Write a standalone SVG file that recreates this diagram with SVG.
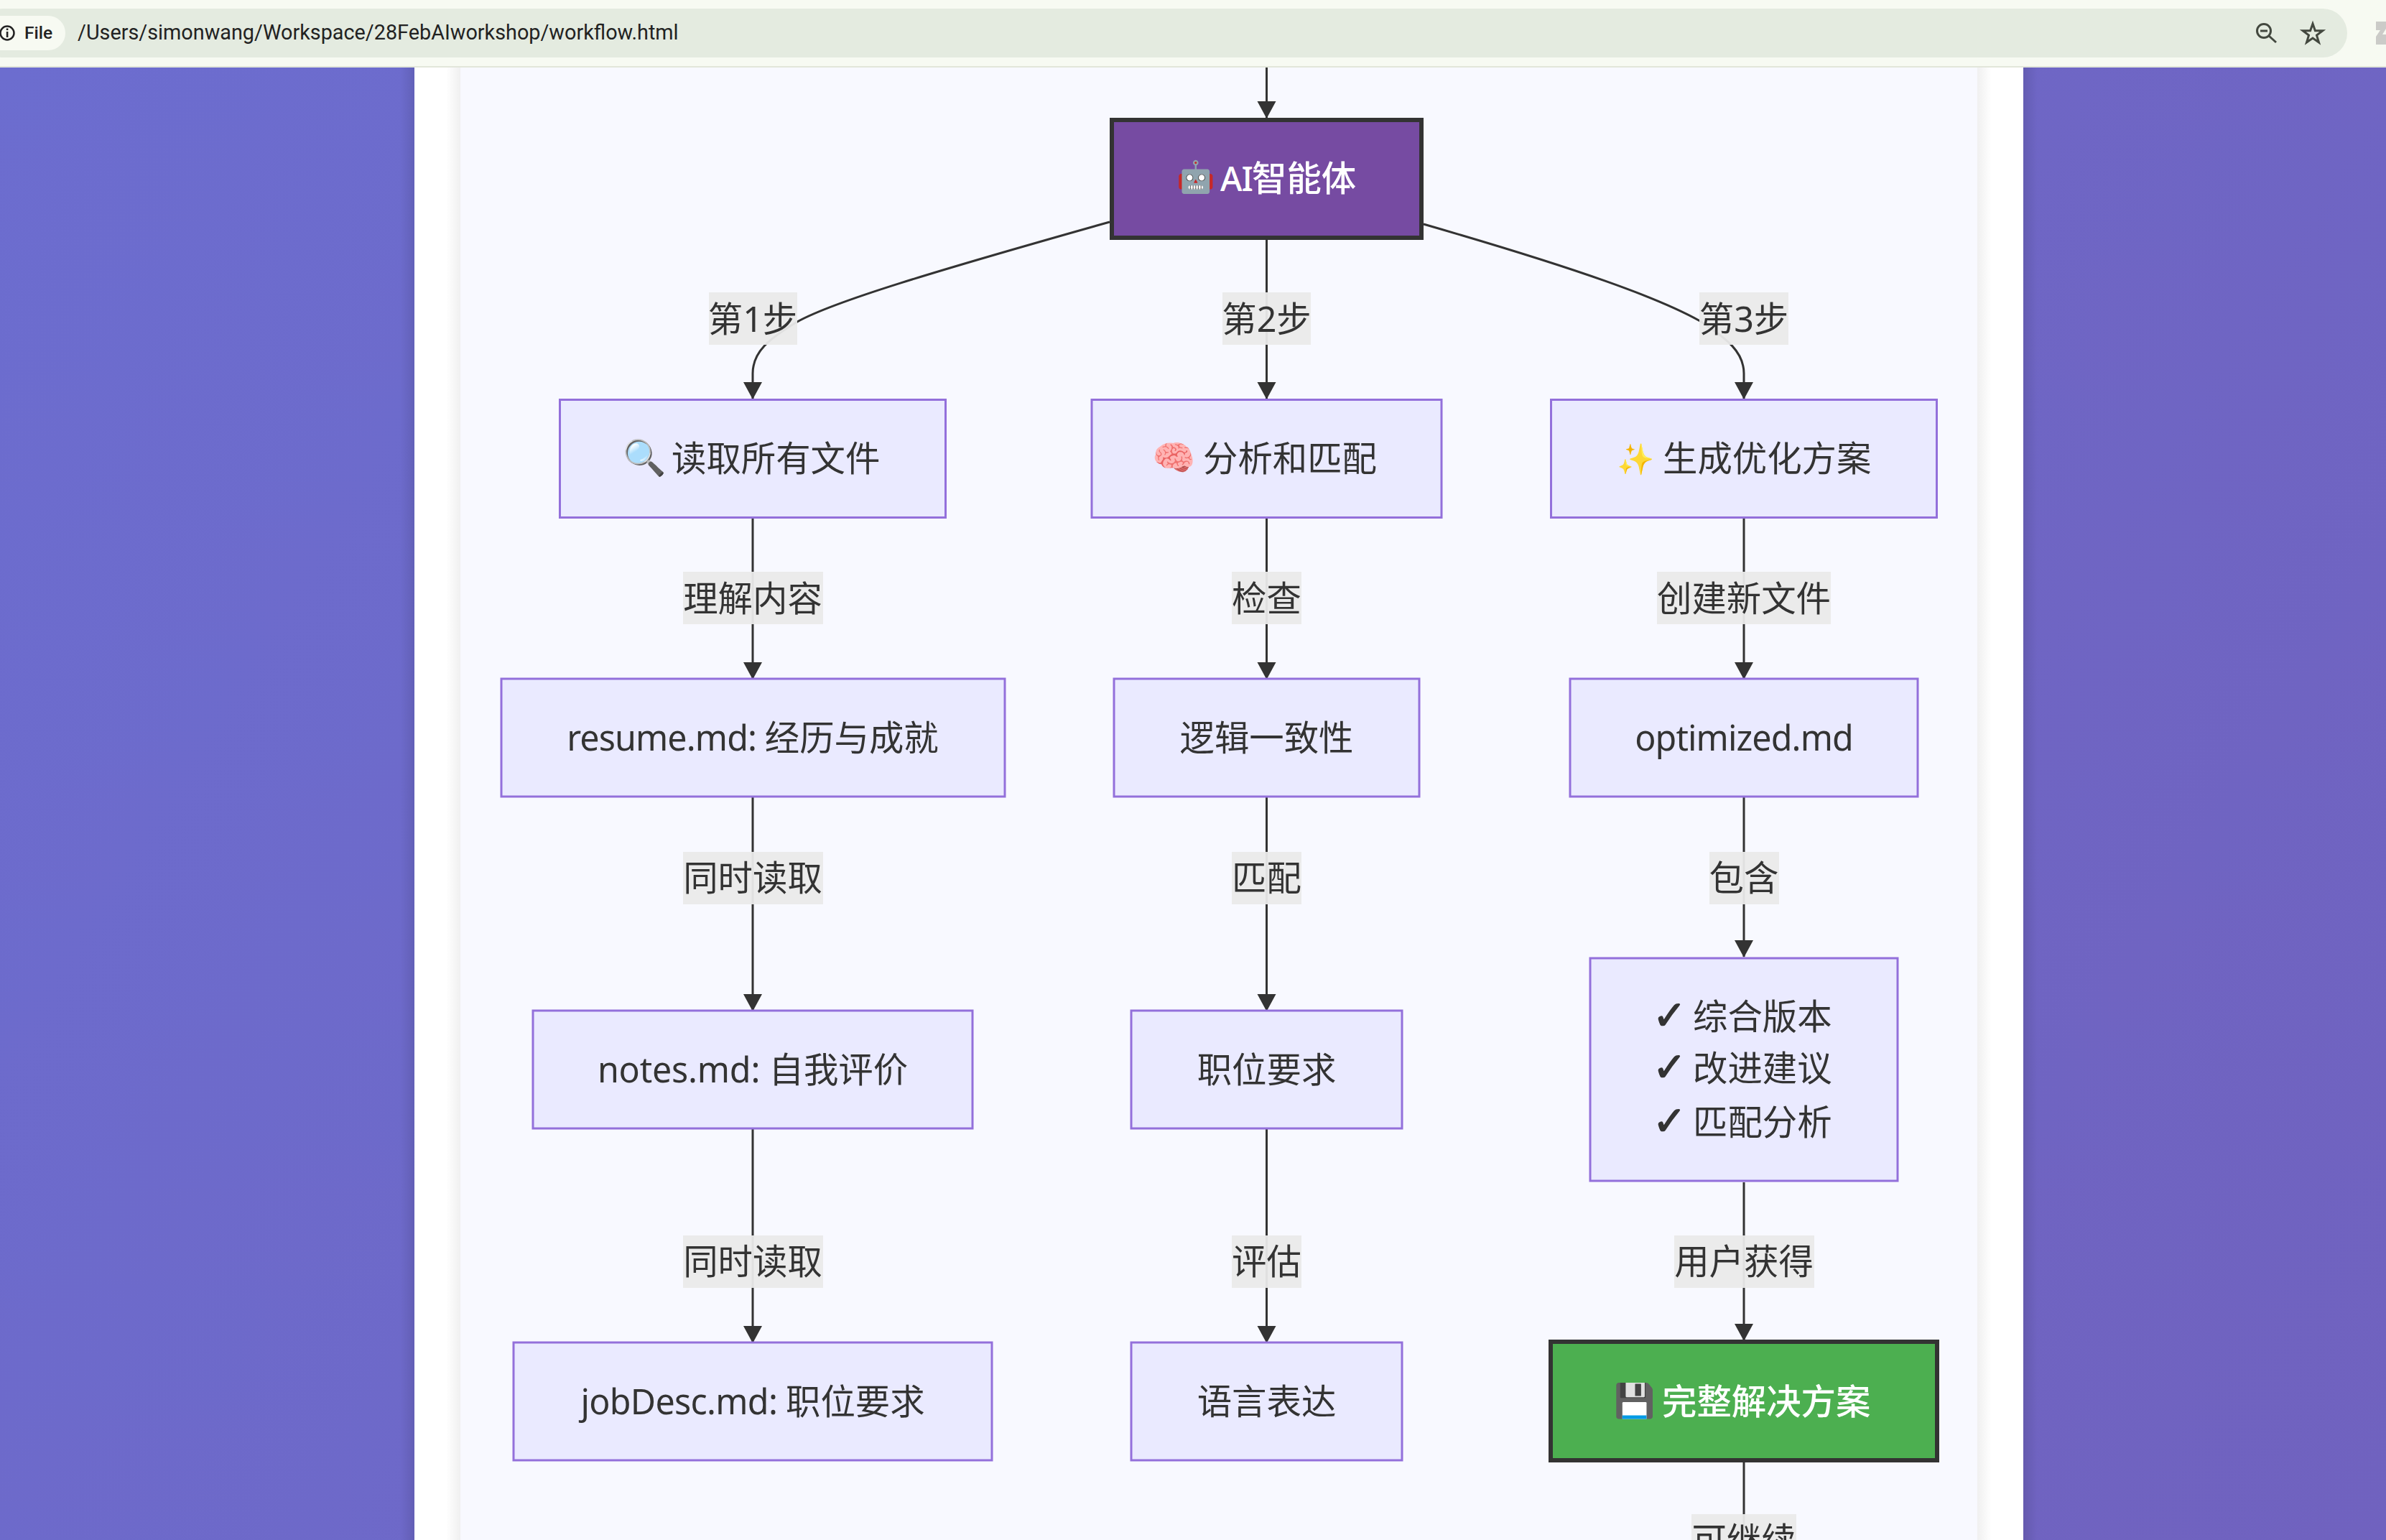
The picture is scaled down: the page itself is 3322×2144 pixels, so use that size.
<svg xmlns="http://www.w3.org/2000/svg" width="3322" height="2144" viewBox="0 0 3322 2144">
<defs>
<linearGradient id="bg" gradientUnits="userSpaceOnUse" x1="0" y1="94" x2="3322" y2="2144"><stop offset="0" stop-color="#6c6dcf"/><stop offset="1" stop-color="#7062bf"/></linearGradient>
<linearGradient id="sl" x1="0" x2="1" y1="0" y2="0"><stop offset="0" stop-color="#000" stop-opacity="0"/><stop offset="1" stop-color="#000" stop-opacity=".1"/></linearGradient>
<linearGradient id="sr" x1="0" x2="1" y1="0" y2="0"><stop offset="0" stop-color="#000" stop-opacity=".1"/><stop offset="1" stop-color="#000" stop-opacity="0"/></linearGradient>
<marker id="arr" markerUnits="userSpaceOnUse" markerWidth="26" markerHeight="27" refX="23" refY="13" orient="auto"><path d="M0,0L24,13L0,26z" fill="#333"/></marker>
</defs>
<style>
text{font-family:"Noto Sans","Noto Sans CJK SC",sans-serif;font-size:48.4px;fill:#333;text-anchor:middle}
.s{text-anchor:start}
.n{fill:#eaeaff;stroke:#9370db;stroke-width:3}
.l{fill:#eaeaea;fill-opacity:.95}
.c{fill:none;stroke:#333;stroke-width:3;marker-end:url(#arr)}
.w{fill:#fff;font-weight:500}
.m{letter-spacing:-.9px}
.k{font-family:"DejaVu Sans",sans-serif;font-size:56px;stroke:#333;stroke-width:1.5px}
</style>
<rect width="3322" height="2144" fill="url(#bg)"/>
<rect x="557" y="94" width="20" height="2050" fill="url(#sl)"/>
<rect x="2817" y="94" width="20" height="2050" fill="url(#sr)"/>
<rect x="577" y="94" width="2240" height="2050" fill="#fff"/>
<rect x="621" y="94" width="20" height="2050" fill="url(#sl)" opacity=".6"/>
<rect x="2753" y="94" width="20" height="2050" fill="url(#sr)" opacity=".6"/>
<rect x="641" y="94" width="2112" height="2050" fill="#f8f9ff"/>
<g id="browser-bar">
<rect width="3322" height="92" fill="#f7faf2"/><rect y="92" width="3322" height="2" fill="#e2e6da"/>
<rect x="-30" y="12" width="3298" height="68" rx="34" fill="#e4ebe0"/>
<rect x="-30" y="22" width="121" height="48" rx="24" fill="#f7faf2"/>
<circle cx="10" cy="46" r="9.5" fill="none" stroke="#222" stroke-width="2.5"/><rect x="8.8" y="44" width="2.6" height="8" fill="#222"/><rect x="8.8" y="39.5" width="2.6" height="2.6" fill="#222"/>
<text class="s" x="34" y="54" style="font-family:Roboto,sans-serif;font-size:24.5px;font-weight:500;fill:#222">File</text>
<text class="s" x="108" y="55" style="font-family:Roboto,sans-serif;font-size:28.8px;fill:#222">/Users/simonwang/Workspace/28FebAIworkshop/workflow.html</text>
<g fill="none" stroke="#43483f" stroke-width="3"><circle cx="3152" cy="43" r="9.5"/><path d="M3159,50L3169,59"/><path d="M3147,43h10"/><path d="M3220,33l3.4,9.8h10.4l-8.3,6.3l3,10l-8.5,-6l-8.5,6l3,-10l-8.3,-6.3h10.4z"/></g>
<path d="M3308,30h14v10l-5,8h5v14h-14v-11l6,-9h-6z" fill="#cbcbc8"/>
</g>
<g id="connectors">
<path class="c" d="M1763.5,94V164"/>
<path class="c" d="M1545,309C1300,378 1160,420 1110,448C1070,472 1048,490 1048,520L1048,555"/>
<path class="c" d="M1763.5,334V555"/>
<path class="c" d="M1982,312C2200,375 2310,415 2367,447C2405,472 2428,490 2428,520L2428,555"/>
<path class="c" d="M1048,722V945"/><path class="c" d="M1763.5,722V945"/><path class="c" d="M2428,722V945"/>
<path class="c" d="M1048,1110V1407"/><path class="c" d="M1763.5,1110V1407"/><path class="c" d="M2428,1110V1332"/>
<path class="c" d="M1048,1572V1869"/><path class="c" d="M1763.5,1572V1869"/><path class="c" d="M2428,1646V1866"/>
<path d="M2428,2036V2144" fill="none" stroke="#333" stroke-width="3"/>
</g>
<g id="labels">
<g><rect class="l" x="987" y="407" width="123" height="73"/><text x="1048" y="462">第1步</text></g>
<g><rect class="l" x="1702" y="407" width="123" height="73"/><text x="1763.5" y="462">第2步</text></g>
<g><rect class="l" x="2366" y="407" width="124" height="73"/><text x="2428" y="462">第3步</text></g>
<g><rect class="l" x="951" y="796" width="195" height="73"/><text x="1048" y="851">理解内容</text></g>
<g><rect class="l" x="1715" y="796" width="97" height="73"/><text x="1763.5" y="851">检查</text></g>
<g><rect class="l" x="2307" y="796" width="242" height="73"/><text x="2428" y="851">创建新文件</text></g>
<g><rect class="l" x="951" y="1186" width="195" height="73"/><text x="1048" y="1239.5">同时读取</text></g>
<g><rect class="l" x="1715" y="1186" width="97" height="73"/><text x="1763.5" y="1239.5">匹配</text></g>
<g><rect class="l" x="2380" y="1186" width="97" height="73"/><text x="2428" y="1239.5">包含</text></g>
<g><rect class="l" x="951" y="1720" width="195" height="73"/><text x="1048" y="1774">同时读取</text></g>
<g><rect class="l" x="1715" y="1720" width="97" height="73"/><text x="1763.5" y="1774">评估</text></g>
<g><rect class="l" x="2331" y="1720" width="195" height="73"/><text x="2428" y="1774">用户获得</text></g>
<g><rect class="l" x="2355" y="2108" width="146" height="73"/><text x="2428" y="2162">可继续</text></g>
</g>
<g id="ai"><rect x="1548" y="167" width="431" height="164" fill="#764ba2" stroke="#333" stroke-width="6"/><text class="w s" y="266"><tspan x="1638" y="261" style="font-size:43px">🤖</tspan> <tspan x="1699" y="266" style="font-size:46.5px;letter-spacing:-1px">AI</tspan><tspan x="1743">智能体</tspan></text></g>
<g id="read"><rect class="n" x="779.5" y="556.5" width="537" height="164"/><text class="s" y="656"><tspan x="867" y="654">🔍</tspan> <tspan x="935" y="656">读取所有文件</tspan></text></g>
<g id="analyze"><rect class="n" x="1520" y="556.5" width="487" height="164"/><text class="s" y="656"><tspan x="1604" y="654">🧠</tspan> <tspan x="1675" y="656">分析和匹配</tspan></text></g>
<g id="generate"><rect class="n" x="2159.5" y="556.5" width="537" height="164"/><text class="s" y="656"><tspan x="2251" y="654" style="font-size:42px">✨</tspan> <tspan x="2315" y="656">生成优化方案</tspan></text></g>
<g id="resume"><rect class="n" x="698" y="945" width="701" height="164"/><text x="1048" y="1045"><tspan class="m">resume.md: </tspan>经历与成就</text></g>
<g id="logic"><rect class="n" x="1551" y="945" width="425" height="164"/><text x="1763.5" y="1045">逻辑一致性</text></g>
<g id="optimized"><rect class="n" x="2186" y="945" width="484" height="164"/><text x="2428" y="1045" class="m">optimized.md</text></g>
<g id="notes"><rect class="n" x="742" y="1407" width="612" height="164"/><text x="1048" y="1507"><tspan style="letter-spacing:-.2px">notes.md: </tspan>自我评价</text></g>
<g id="req"><rect class="n" x="1575" y="1407" width="377" height="164"/><text x="1763.5" y="1507">职位要求</text></g>
<g id="list"><rect class="n" x="2214" y="1334" width="428" height="310"/>
<text class="s" y="1433"><tspan class="k" x="2301">✓</tspan> <tspan x="2357">综合版本</tspan></text>
<text class="s" y="1505"><tspan class="k" x="2301">✓</tspan> <tspan x="2357">改进建议</tspan></text>
<text class="s" y="1579.5"><tspan class="k" x="2301">✓</tspan> <tspan x="2357">匹配分析</tspan></text></g>
<g id="job"><rect class="n" x="715" y="1869" width="666" height="164"/><text x="1048" y="1969"><tspan style="letter-spacing:-.7px">jobDesc.md: </tspan>职位要求</text></g>
<g id="lang"><rect class="n" x="1575" y="1869" width="377" height="164"/><text x="1763.5" y="1969">语言表达</text></g>
<g id="done"><rect x="2159" y="1868" width="538" height="165" fill="#4caf50" stroke="#333" stroke-width="6"/><text class="w s" y="1969"><tspan x="2247" y="1966" style="font-size:46px">💾</tspan> <tspan x="2314" y="1969">完整解决方案</tspan></text></g>
</svg>
